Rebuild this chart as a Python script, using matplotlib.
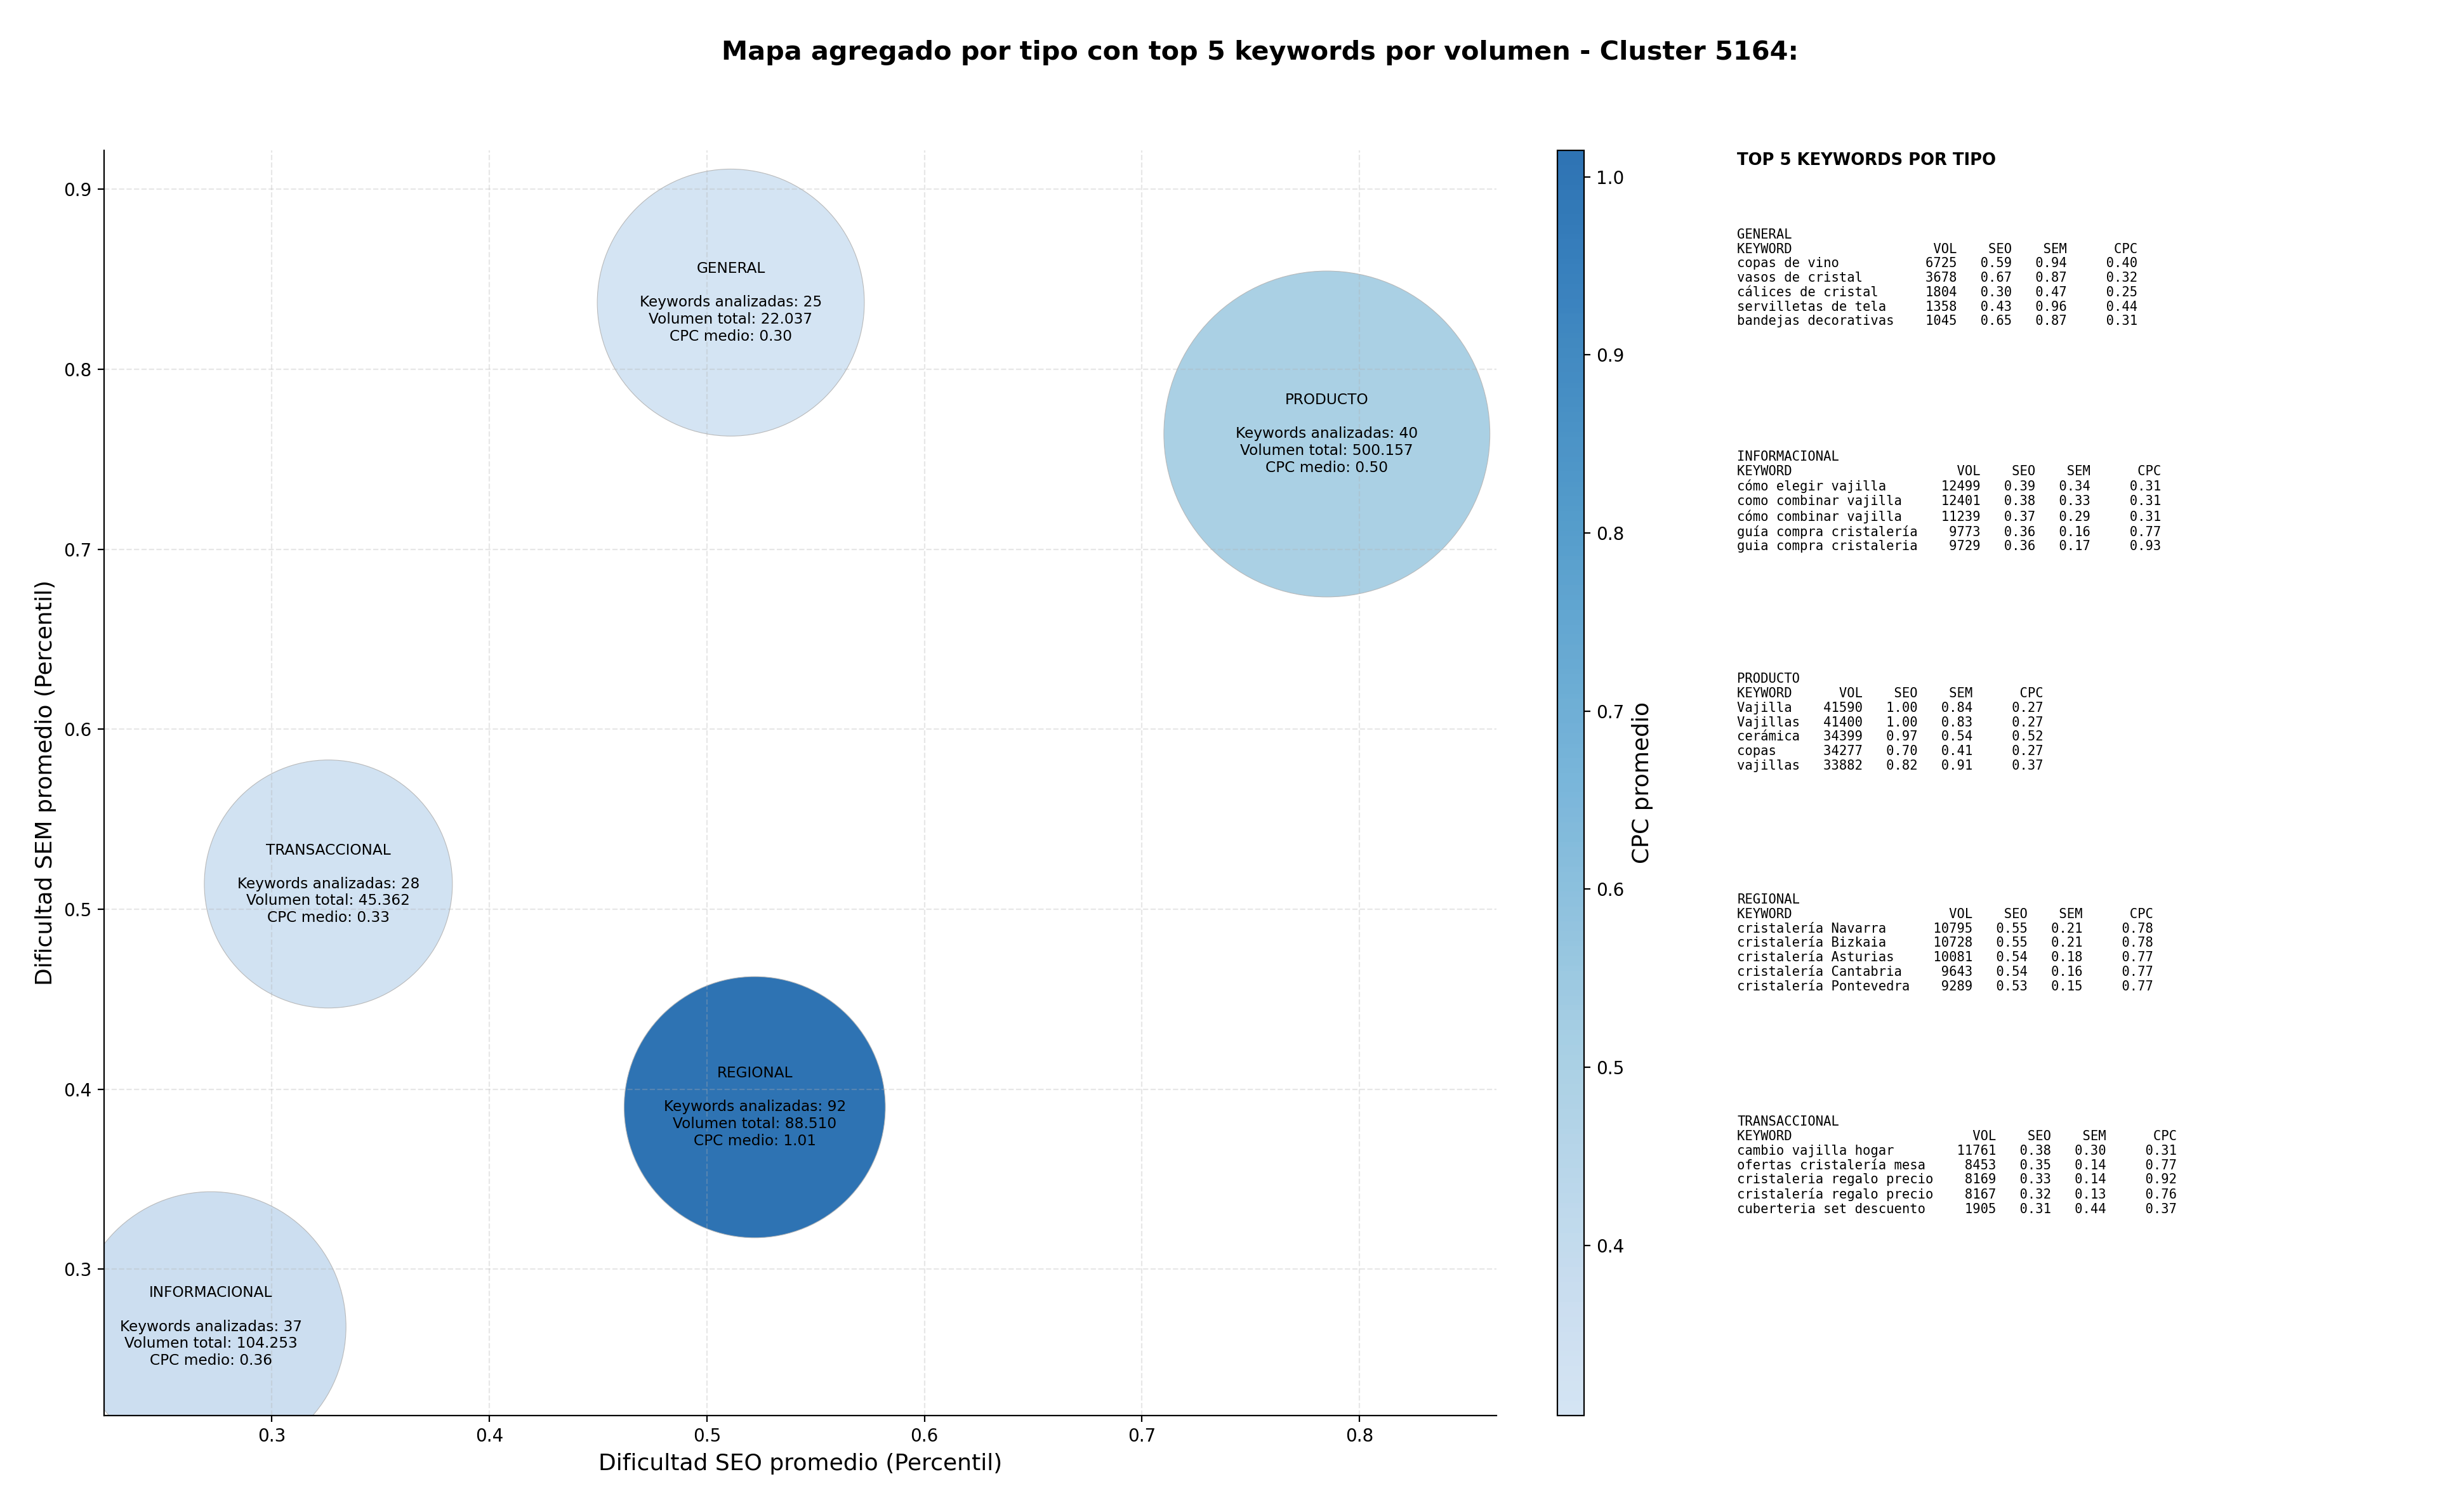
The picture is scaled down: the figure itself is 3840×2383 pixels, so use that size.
"""Mapa agregado por tipo de keyword (SEO vs SEM) con top 5 keywords por volumen."""

import matplotlib
import numpy as np

matplotlib.use("Agg")
import matplotlib.pyplot as plt  # noqa: E402
from matplotlib.colors import LinearSegmentedColormap, Normalize  # noqa: E402

CLUSTER_ID = 5164

# aggregated values per keyword type
tipos = ["GENERAL", "INFORMACIONAL", "PRODUCTO", "REGIONAL", "TRANSACCIONAL"]
seo_medio = [0.511, 0.272, 0.785, 0.522, 0.326]
sem_medio = [0.837, 0.268, 0.764, 0.390, 0.514]
keywords_analizadas = [25, 37, 40, 92, 28]
volumen_total = [22037, 104253, 500157, 88510, 45362]
cpc_medio = [0.3045, 0.36, 0.50, 1.0149, 0.33]
# relative bubble weight
peso_burbuja = [0.671, 0.687, 1.0, 0.642, 0.579]

# top 5 keywords by volume: (keyword, vol, seo, sem, cpc)
top_general = [
    ("copas de vino", 6725, 0.59, 0.94, 0.40),
    ("vasos de cristal", 3678, 0.67, 0.87, 0.32),
    ("cálices de cristal", 1804, 0.30, 0.47, 0.25),
    ("servilletas de tela", 1358, 0.43, 0.96, 0.44),
    ("bandejas decorativas", 1045, 0.65, 0.87, 0.31),
]
top_informacional = [
    ("cómo elegir vajilla", 12499, 0.39, 0.34, 0.31),
    ("como combinar vajilla", 12401, 0.38, 0.33, 0.31),
    ("cómo combinar vajilla", 11239, 0.37, 0.29, 0.31),
    ("guía compra cristalería", 9773, 0.36, 0.16, 0.77),
    ("guia compra cristaleria", 9729, 0.36, 0.17, 0.93),
]
top_producto = [
    ("Vajilla", 41590, 1.00, 0.84, 0.27),
    ("Vajillas", 41400, 1.00, 0.83, 0.27),
    ("cerámica", 34399, 0.97, 0.54, 0.52),
    ("copas", 34277, 0.70, 0.41, 0.27),
    ("vajillas", 33882, 0.82, 0.91, 0.37),
]
top_regional = [
    ("cristalería Navarra", 10795, 0.55, 0.21, 0.78),
    ("cristalería Bizkaia", 10728, 0.55, 0.21, 0.78),
    ("cristalería Asturias", 10081, 0.54, 0.18, 0.77),
    ("cristalería Cantabria", 9643, 0.54, 0.16, 0.77),
    ("cristalería Pontevedra", 9289, 0.53, 0.15, 0.77),
]
top_transaccional = [
    ("cambio vajilla hogar", 11761, 0.38, 0.30, 0.31),
    ("ofertas cristalería mesa", 8453, 0.35, 0.14, 0.77),
    ("cristaleria regalo precio", 8169, 0.33, 0.14, 0.92),
    ("cristalería regalo precio", 8167, 0.32, 0.13, 0.76),
    ("cuberteria set descuento", 1905, 0.31, 0.44, 0.37),
]

MAX_BUBBLE = 34200
CMAP = LinearSegmentedColormap.from_list(
    "blues_mid", plt.cm.Blues(np.linspace(0.2, 0.8, 256))
)


def fmt_miles(value: int) -> str:
    return f"{value:,}".replace(",", ".")


def keyword_block(tipo: str, rows: list[tuple]) -> str:
    width = max(len(r[0]) for r in rows) + 2
    lines = [tipo, f"{'KEYWORD':<{width}}{'VOL':>6}{'SEO':>7}{'SEM':>7}{'CPC':>9}"]
    for kw, vol, seo, sem, cpc in rows:
        lines.append(f"{kw:<{width}}{vol:>6}{seo:>7.2f}{sem:>7.2f}{cpc:>9.2f}")
    return "\n".join(lines)


def main() -> None:
    fig = plt.figure(figsize=(19.2, 11.915), dpi=200)
    ax = fig.add_axes([0.0427, 0.0638, 0.5714, 0.8368])
    cax = fig.add_axes([0.639, 0.0638, 0.011, 0.8368])

    norm = Normalize(vmin=min(cpc_medio), vmax=max(cpc_medio))
    sizes = [p * MAX_BUBBLE for p in peso_burbuja]
    sc = ax.scatter(
        seo_medio,
        sem_medio,
        s=sizes,
        c=cpc_medio,
        cmap=CMAP,
        norm=norm,
        alpha=0.9,
        edgecolors="#b4b4b4",
        linewidths=0.4,
    )

    for i, tipo in enumerate(tipos):
        label = (
            f"{tipo}\n\nKeywords analizadas: {keywords_analizadas[i]}\n"
            f"Volumen total: {fmt_miles(volumen_total[i])}\n"
            f"CPC medio: {cpc_medio[i]:.2f}"
        )
        ax.text(seo_medio[i], sem_medio[i], label, ha="center", va="center", fontsize=8.4)

    ax.set_xlim(0.2229, 0.863)
    ax.set_ylim(0.2187, 0.9216)
    ax.set_xlabel("Dificultad SEO promedio (Percentil)", fontsize=13)
    ax.set_ylabel("Dificultad SEM promedio (Percentil)", fontsize=13)
    ax.tick_params(labelsize=10)
    ax.grid(True, linestyle="--", alpha=0.3)
    ax.spines["top"].set_visible(False)
    ax.spines["right"].set_visible(False)

    cbar = fig.colorbar(sc, cax=cax)
    cbar.set_label("CPC promedio", fontsize=13)
    cbar.ax.tick_params(labelsize=10)

    fig.text(
        0.517,
        0.965,
        f"Mapa agregado por tipo con top 5 keywords por volumen - Cluster {CLUSTER_ID}:",
        ha="center",
        va="center",
        fontsize=14.9,
        fontweight="bold",
    )

    panel_x = 0.7128
    fig.text(panel_x, 0.894, "TOP 5 KEYWORDS POR TIPO", ha="left", va="center",
             fontsize=9.3, fontweight="bold")
    blocks = [top_general, top_informacional, top_producto, top_regional, top_transaccional]
    tops = [147, 290, 433, 575, 718]
    for tipo, rows, top in zip(tipos, blocks, tops):
        fig.text(panel_x, 1 - top / 973, keyword_block(tipo, rows), ha="left", va="top",
                 fontsize=7.4, family="DejaVu Sans Mono", linespacing=1.17)

    fig.savefig("out.png", dpi=200)
    plt.close(fig)


if __name__ == "__main__":
    main()
